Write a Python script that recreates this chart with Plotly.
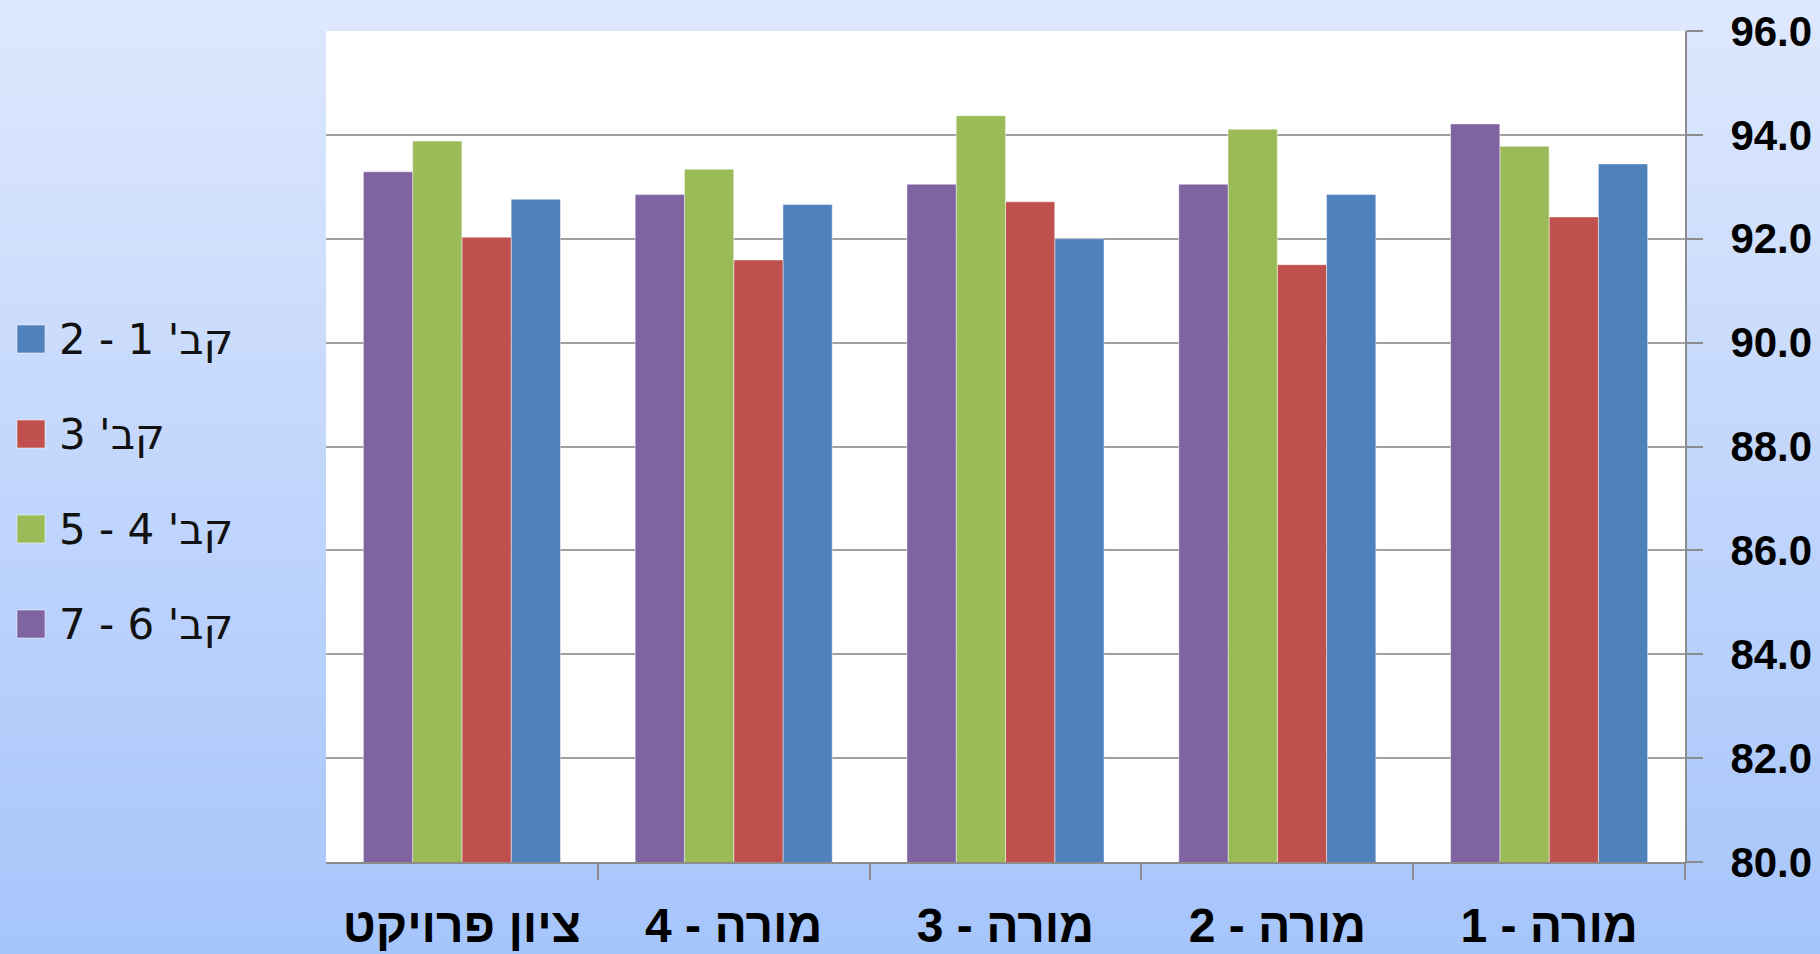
import plotly.graph_objects as go

# Categories in logical order (axis is reversed so the first sits on the right)
categories = ["מורה - 1", "מורה - 2", "מורה - 3", "מורה - 4", "ציון פרויקט"]

series_names = ["קב' 1 - 2", "קב' 3", "קב' 4 - 5", "קב' 6 - 7"]
series_colors = ["#4f81bd", "#c0504d", "#9bbb59", "#8064a2"]

group_1_2 = [93.44, 92.85, 92.00, 92.66, 92.76]
group_3 = [92.42, 91.50, 92.71, 91.59, 92.03]
group_4_5 = [93.78, 94.11, 94.37, 93.34, 93.88]
group_6_7 = [94.21, 93.05, 93.05, 92.85, 93.29]

series_values = [group_1_2, group_3, group_4_5, group_6_7]

y_ticks = [80, 82, 84, 86, 88, 90, 92, 94, 96]

# Page geometry
W, H = 1820, 954
ML, MR, MT, MB = 326, 135, 31, 92
PW, PH = W - ML - MR, H - MT - MB

fig = go.Figure()
for name, color, vals in zip(series_names, series_colors, series_values):
    fig.add_trace(go.Bar(
        x=categories, y=vals, name=name,
        marker=dict(color=color, line=dict(color="rgba(255,255,255,0.45)", width=1)),
        showlegend=False,
    ))

shapes = []
annotations = []

# Vertical background gradient over the whole page
top_rgb = (222, 232, 253)
bot_rgb = (166, 197, 251)
n_strips = 120
x0p, x1p = -ML / PW, 1 + MR / PW
y_top, y_bot = 1 + MT / PH, -MB / PH
for i in range(n_strips):
    t = i / (n_strips - 1)
    r = round(top_rgb[0] + (bot_rgb[0] - top_rgb[0]) * t)
    g = round(top_rgb[1] + (bot_rgb[1] - top_rgb[1]) * t)
    b = round(top_rgb[2] + (bot_rgb[2] - top_rgb[2]) * t)
    ya = y_top + (y_bot - y_top) * i / n_strips
    yb = y_top + (y_bot - y_top) * (i + 1) / n_strips
    shapes.append(dict(type="rect", xref="paper", yref="paper",
                       x0=x0p, x1=x1p, y0=yb - 0.001, y1=ya + 0.001,
                       fillcolor=f"rgb({r},{g},{b})", line=dict(width=0),
                       layer="below"))

# White plotting area
shapes.append(dict(type="rect", xref="paper", yref="paper", x0=0, x1=1, y0=0, y1=1,
                   fillcolor="white", line=dict(width=0), layer="below"))

# Legend on the left: square swatch plus label
legend_rows_px = [339, 434, 529, 624]
sw = 28
for name, color, cy in zip(series_names, series_colors, legend_rows_px):
    shapes.append(dict(type="rect", xref="paper", yref="paper",
                       x0=(17 - ML) / PW, x1=(17 + sw - ML) / PW,
                       y0=1 - (cy + sw / 2 - MT) / PH, y1=1 - (cy - sw / 2 - MT) / PH,
                       fillcolor=color, line=dict(color="rgba(255,255,255,0.5)", width=1)))
    annotations.append(dict(xref="paper", yref="paper",
                            x=(57 - ML) / PW, y=1 - (cy - MT) / PH,
                            xanchor="left", yanchor="middle", showarrow=False,
                            text=name,
                            font=dict(family="DejaVu Sans, Liberation Sans", size=42, color="#111")))

fig.update_layout(
    width=W, height=H,
    margin=dict(l=ML, r=MR, t=MT, b=MB, pad=0, autoexpand=False),
    paper_bgcolor="#c4d8fc",
    plot_bgcolor="white",
    barmode="group",
    bargap=0.275,
    bargroupgap=0,
    showlegend=False,
    shapes=shapes,
    annotations=annotations,
    xaxis=dict(
        type="category",
        categoryorder="array", categoryarray=categories,
        autorange="reversed",
        automargin=False,
        tickangle=0,
        tickson="boundaries",
        ticks="outside", ticklen=16, tickwidth=2, tickcolor="#8c8c8c",
        showline=True, linecolor="#8c8c8c", linewidth=2,
        showgrid=False,
        ticklabelstandoff=20,
        tickfont=dict(family="Liberation Sans, Arial", size=48, color="#000", weight="bold"),
    ),
    yaxis=dict(
        side="right",
        range=[80, 96],
        tickvals=y_ticks,
        tickformat=".1f",
        automargin=False,
        ticks="outside", ticklen=16, tickwidth=2, tickcolor="#8c8c8c",
        showline=True, linecolor="#8c8c8c", linewidth=2,
        showgrid=True, gridcolor="#a0a0a0", gridwidth=2,
        zeroline=False,
        ticklabelstandoff=19,
        tickfont=dict(family="Liberation Sans, Arial", size=42, color="#000", weight="bold"),
    ),
)

fig.write_html("out.html")
